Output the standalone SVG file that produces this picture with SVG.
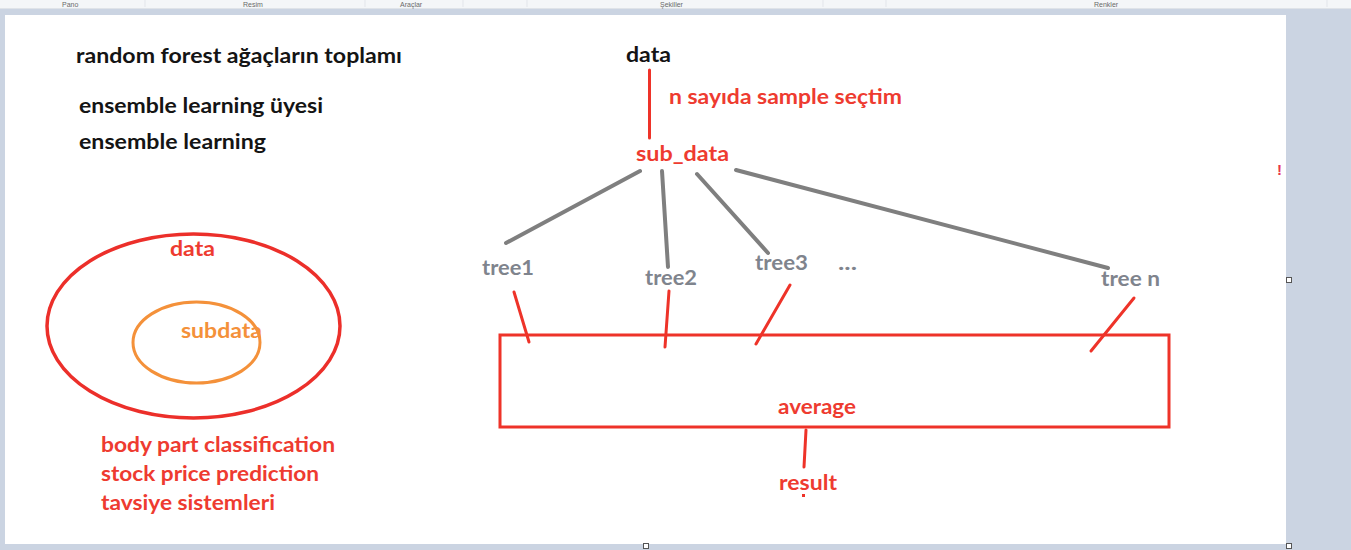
<svg xmlns="http://www.w3.org/2000/svg" width="1351" height="550" viewBox="0 0 1351 550">
<style>
.t{font-family:Lato,"Open Sans","Liberation Sans",sans-serif;font-weight:bold;font-size:21px}
.k{fill:#141414}
.r{fill:#ee3b30}
.g{fill:#7f848d}
.o{fill:#f4913a}
.gl{stroke:#7f7f7f;stroke-width:4;stroke-linecap:round;fill:none}
.rl{stroke:#ee3329;stroke-width:3;stroke-linecap:round;fill:none}
.tb{font-family:"Liberation Sans",Arial,sans-serif;font-size:7px;fill:#6a6a6a}
.h{fill:#fff;stroke:#555;stroke-width:1}
</style>
<rect x="0" y="0" width="1351" height="550" fill="#cbd4e2"/>
<rect x="0" y="0" width="1351" height="8" fill="#f4f6f8"/>
<line x1="0" y1="8.5" x2="1351" y2="8.5" stroke="#dfe3e8"/>
<g stroke="#e2e5ea">
<line x1="145" y1="0" x2="145" y2="7"/><line x1="365" y1="0" x2="365" y2="7"/><line x1="463" y1="0" x2="463" y2="7"/><line x1="527" y1="0" x2="527" y2="7"/><line x1="823" y1="0" x2="823" y2="7"/><line x1="886" y1="0" x2="886" y2="7"/><line x1="1327" y1="0" x2="1327" y2="7"/>
</g>
<text class="tb" x="62" y="6.5">Pano</text>
<text class="tb" x="243" y="6.5">Resim</text>
<text class="tb" x="400" y="6.5">Araçlar</text>
<text class="tb" x="660" y="6.5">Şekiller</text>
<text class="tb" x="1094" y="6.5">Renkler</text>
<rect x="5" y="15" width="1281" height="529" fill="#ffffff"/>
<rect class="h" x="1286.5" y="277.5" width="5" height="5"/>
<rect class="h" x="1286.5" y="543.5" width="5" height="5"/>
<rect class="h" x="643.5" y="543.5" width="5" height="5"/>

<g id="notes">
<text class="t k" x="76" y="63" textLength="326" lengthAdjust="spacingAndGlyphs">random forest ağaçların toplamı</text>
<text class="t k" x="79" y="113" textLength="244" lengthAdjust="spacingAndGlyphs">ensemble learning üyesi</text>
<text class="t k" x="79" y="149" textLength="187" lengthAdjust="spacingAndGlyphs">ensemble learning</text>
</g>

<g id="venn">
<ellipse cx="193.5" cy="326" rx="146.5" ry="92" fill="none" stroke="#ec2f2a" stroke-width="3.5"/>
<ellipse cx="196.5" cy="342.5" rx="63.5" ry="40.5" fill="none" stroke="#f4913a" stroke-width="3"/>
<text class="t r" x="170" y="256" textLength="45" lengthAdjust="spacingAndGlyphs">data</text>
<text class="t o" x="181" y="338" textLength="81" lengthAdjust="spacingAndGlyphs">subdata</text>
</g>

<g id="uses">
<text class="t r" x="101" y="452" textLength="234" lengthAdjust="spacingAndGlyphs">body part classification</text>
<text class="t r" x="101" y="481" textLength="218" lengthAdjust="spacingAndGlyphs">stock price prediction</text>
<text class="t r" x="101" y="510" textLength="174" lengthAdjust="spacingAndGlyphs">tavsiye sistemleri</text>
</g>

<g id="connectors">
<line class="rl" x1="649.5" y1="70" x2="649.5" y2="138"/>
<line class="gl" x1="640" y1="171" x2="506" y2="243"/>
<line class="gl" x1="662" y1="171" x2="668" y2="267"/>
<line class="gl" x1="697" y1="174" x2="768" y2="253"/>
<line class="gl" x1="736" y1="170" x2="1108" y2="268"/>
<line class="rl" x1="514" y1="292" x2="529" y2="342"/>
<line class="rl" x1="669" y1="291" x2="665" y2="347"/>
<line class="rl" x1="790" y1="285" x2="756" y2="344"/>
<line class="rl" x1="1134" y1="298" x2="1091" y2="351"/>
<line class="rl" x1="806" y1="430" x2="804" y2="467"/>
<rect x="802" y="494" width="3" height="3" fill="#ee3329"/>
</g>

<g id="data"><text class="t k" x="626" y="62" textLength="45" lengthAdjust="spacingAndGlyphs">data</text></g>
<g id="sample-label"><text class="t r" x="669" y="104" textLength="233" lengthAdjust="spacingAndGlyphs">n sayıda sample seçtim</text></g>
<g id="sub_data"><text class="t r" x="636" y="161" textLength="93" lengthAdjust="spacingAndGlyphs">sub_data</text></g>
<g id="tree1"><text class="t g" x="482" y="275" textLength="52" lengthAdjust="spacingAndGlyphs">tree1</text></g>
<g id="tree2"><text class="t g" x="645" y="285" textLength="52" lengthAdjust="spacingAndGlyphs">tree2</text></g>
<g id="tree3"><text class="t g" x="755" y="270" textLength="53" lengthAdjust="spacingAndGlyphs">tree3</text></g>
<g id="dots"><text class="t g" x="838" y="270" textLength="19" lengthAdjust="spacingAndGlyphs">...</text></g>
<g id="treen"><text class="t g" x="1101" y="286" textLength="59" lengthAdjust="spacingAndGlyphs">tree n</text></g>
<g id="average">
<rect x="500" y="335" width="669" height="92" fill="none" stroke="#ee3329" stroke-width="3"/>
<text class="t r" x="778" y="414" textLength="78" lengthAdjust="spacingAndGlyphs">average</text>
</g>
<g id="result"><text class="t r" x="779" y="490" textLength="58" lengthAdjust="spacingAndGlyphs">result</text></g>
<text x="1277" y="175" font-family="'Liberation Sans',sans-serif" font-size="15" font-weight="bold" fill="#e8364a">!</text>
</svg>
